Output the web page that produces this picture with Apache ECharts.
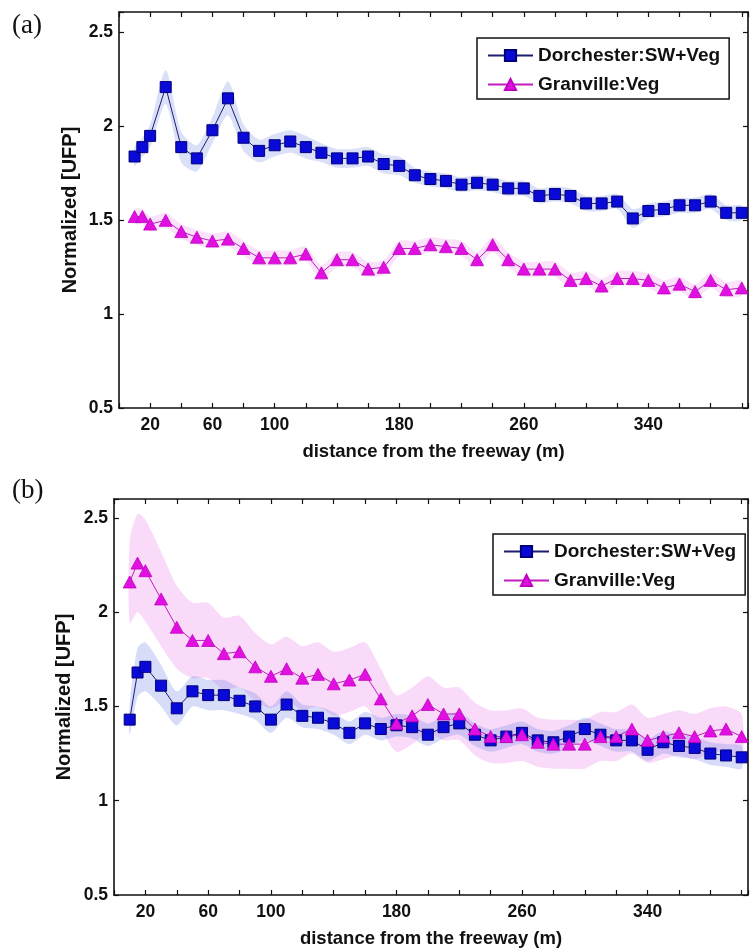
<!DOCTYPE html>
<html>
<head>
<meta charset="utf-8">
<title>Normalized UFP vs distance from the freeway</title>
<script src="https://cdn.jsdelivr.net/npm/echarts@6/dist/echarts.min.js"></script>
<style>
  html, body { margin: 0; padding: 0; background: #fff; }
  #chart { width: 751px; height: 949px; }
</style>
</head>
<body>
<div id="chart"></div>
<script>
// distance from the freeway (m), shared by every series
const distance = [10, 15, 20, 30, 40, 50, 60, 70, 80, 90, 100, 110, 120, 130, 140, 150, 160,
  170, 180, 190, 200, 210, 220, 230, 240, 250, 260, 270, 280, 290, 300, 310, 320, 330, 340,
  350, 360, 370, 380, 390, 400]

// panel (a)
const dorchesterA = [1.84, 1.89, 1.95, 2.21, 1.89, 1.83, 1.98, 2.15, 1.94, 1.87, 1.90, 1.92, 1.89, 1.86, 1.83, 1.83, 1.84,
  1.80, 1.79, 1.74, 1.72, 1.71, 1.69, 1.70, 1.69, 1.67, 1.67, 1.63, 1.64, 1.63, 1.59, 1.59, 1.60, 1.51, 1.55,
  1.56, 1.58, 1.58, 1.60, 1.54, 1.54]
const granvilleA = [1.52, 1.52, 1.48, 1.50, 1.44, 1.41, 1.39, 1.40, 1.35, 1.30, 1.30, 1.30, 1.32, 1.22, 1.29, 1.29, 1.24,
  1.25, 1.35, 1.35, 1.37, 1.36, 1.35, 1.29, 1.37, 1.29, 1.24, 1.24, 1.24, 1.18, 1.19, 1.15, 1.19, 1.19, 1.18,
  1.14, 1.16, 1.12, 1.18, 1.13, 1.14]
// half width of the shaded bands
const dorchesterBandA = [0.05, 0.05, 0.06, 0.09, 0.08, 0.07, 0.07, 0.09, 0.07, 0.06, 0.06, 0.06, 0.06, 0.05, 0.05, 0.05, 0.05,
  0.05, 0.05, 0.04, 0.04, 0.04, 0.04, 0.04, 0.04, 0.04, 0.04, 0.04, 0.04, 0.04, 0.04, 0.04, 0.04, 0.05, 0.04,
  0.04, 0.04, 0.04, 0.04, 0.04, 0.04]
const granvilleBandA = [0.04, 0.04, 0.04, 0.04, 0.04, 0.04, 0.04, 0.04, 0.04, 0.04, 0.04, 0.04, 0.04, 0.04, 0.04, 0.04, 0.04,
  0.04, 0.04, 0.04, 0.04, 0.04, 0.04, 0.04, 0.04, 0.04, 0.04, 0.04, 0.04, 0.04, 0.04, 0.04, 0.04, 0.04, 0.04,
  0.04, 0.04, 0.04, 0.04, 0.04, 0.04]

// panel (b)
const dorchesterB = [1.43, 1.68, 1.71, 1.61, 1.49, 1.58, 1.56, 1.56, 1.53, 1.50, 1.43, 1.51, 1.45, 1.44, 1.41, 1.36, 1.41,
  1.38, 1.40, 1.39, 1.35, 1.39, 1.41, 1.35, 1.32, 1.34, 1.36, 1.32, 1.31, 1.34, 1.38, 1.35, 1.32, 1.32, 1.27,
  1.31, 1.29, 1.28, 1.25, 1.24, 1.23]
const granvilleB = [2.16, 2.26, 2.22, 2.07, 1.92, 1.85, 1.85, 1.78, 1.79, 1.71, 1.66, 1.70, 1.65, 1.67, 1.62, 1.64, 1.67,
  1.54, 1.41, 1.45, 1.51, 1.46, 1.46, 1.38, 1.34, 1.34, 1.35, 1.31, 1.30, 1.30, 1.30, 1.34, 1.34, 1.38, 1.32,
  1.34, 1.36, 1.34, 1.37, 1.38, 1.34]
const dorchesterBandB = [0.08, 0.13, 0.13, 0.11, 0.09, 0.08, 0.08, 0.08, 0.07, 0.07, 0.07, 0.07, 0.06, 0.06, 0.06, 0.06, 0.06,
  0.06, 0.06, 0.06, 0.06, 0.06, 0.06, 0.06, 0.06, 0.06, 0.06, 0.06, 0.06, 0.06, 0.06, 0.06, 0.06, 0.06, 0.06,
  0.06, 0.06, 0.06, 0.06, 0.06, 0.06]
const granvilleBandB = [0.22, 0.26, 0.27, 0.25, 0.22, 0.20, 0.20, 0.19, 0.19, 0.18, 0.17, 0.17, 0.17, 0.17, 0.17, 0.17, 0.17,
  0.16, 0.15, 0.15, 0.15, 0.14, 0.14, 0.14, 0.14, 0.14, 0.14, 0.13, 0.13, 0.13, 0.13, 0.13, 0.13, 0.13, 0.12,
  0.12, 0.12, 0.12, 0.12, 0.12, 0.12]

const xLabels = [20, 60, 100, 180, 260, 340]
const NAME_DOR = "Dorchester:SW+Veg"
const NAME_GRA = "Granville:Veg"

const FONT = '"Liberation Sans", Arial, sans-serif'
const SERIF = '27px "Liberation Serif", "Times New Roman", serif'
const INK = "#111"

const chart = echarts.init(document.getElementById("chart"), null, { renderer: "canvas" })

const pairs = (ys) => distance.map((d, i) => [d, ys[i]])

// shaded band: one polygon through upper edge then lower edge, placed by the axes
function band(ys, half, color, axis) {
  return {
    type: "custom", name: "band", xAxisIndex: axis, yAxisIndex: axis, silent: true, clip: true,
    data: [[distance[0], ys[0]]],
    renderItem: (params, api) => {
      const upper = distance.map((d, i) => api.coord([d, ys[i] + half[i]]))
      const lower = distance.map((d, i) => api.coord([d, ys[i] - half[i]])).reverse()
      return {
        type: "polygon",
        shape: { points: upper.concat(lower), smooth: 0.25 },
        style: { fill: color },
      }
    },
  }
}

function dorSeries(ys, axis) {
  return {
    type: "line", name: NAME_DOR, xAxisIndex: axis, yAxisIndex: axis, data: pairs(ys),
    symbol: "rect", symbolSize: 11,
    lineStyle: { color: "#1d1d70", width: 1 },
    itemStyle: { color: "#0a0ad8", borderColor: "#00007a", borderWidth: 1 },
  }
}

function graSeries(ys, axis) {
  return {
    type: "line", name: NAME_GRA, xAxisIndex: axis, yAxisIndex: axis, data: pairs(ys),
    symbol: "triangle", symbolSize: [13, 12],
    lineStyle: { color: "#c21cc2", width: 1 },
    itemStyle: { color: "#e010e0", borderColor: "#c000c0", borderWidth: 0.8 },
  }
}

function xAxis(grid, position, main) {
  return {
    type: "value", gridIndex: grid, position: position, min: 0, max: 404, interval: 20,
    axisLine: { show: true, onZero: false, lineStyle: { color: INK, width: 1.6 } },
    axisTick: { show: true, inside: true, length: 5, lineStyle: { color: INK, width: 1.2 } },
    splitLine: { show: false },
    axisLabel: {
      show: main, margin: 8, fontSize: 17.5, fontWeight: "bold", fontFamily: FONT, color: INK,
      formatter: (v) => (xLabels.includes(v) ? String(v) : ""),
    },
    name: main ? "distance from the freeway (m)" : "",
    nameLocation: "middle", nameGap: 34,
    nameTextStyle: { fontSize: 18.5, fontWeight: "bold", fontFamily: FONT, color: INK },
  }
}

function yAxis(grid, position, main, max, gap) {
  return {
    type: "value", gridIndex: grid, position: position, min: 0.5, max: max, interval: 0.5,
    axisLine: { show: true, onZero: false, lineStyle: { color: INK, width: 1.6 } },
    axisTick: { show: true, inside: true, length: 5, lineStyle: { color: INK, width: 1.2 } },
    splitLine: { show: false },
    axisLabel: {
      show: main, margin: 6, fontSize: 17.5, fontWeight: "bold", fontFamily: FONT, color: INK,
      formatter: (v) => (Math.abs(v * 2 - Math.round(v * 2)) < 1e-6 ? String(v) : ""),
    },
    name: main ? "Normalized [UFP]" : "",
    nameLocation: "middle", nameGap: gap, nameRotate: 90, nameMoveOverlap: false,
    nameTextStyle: { fontSize: 20, fontWeight: "bold", fontFamily: FONT, color: INK },
  }
}

function legend(left, top) {
  return {
    left: left, top: top, orient: "vertical",
    itemWidth: 45, itemHeight: 14, itemGap: 10,
    padding: [8, 9, 5, 10],
    borderColor: INK, borderWidth: 1.5, backgroundColor: "#fff",
    textStyle: { fontSize: 19, fontWeight: "bold", fontFamily: FONT, color: INK },
    data: [NAME_DOR, NAME_GRA],
  }
}

const option = {
  animation: false,
  backgroundColor: "#fff",
  grid: [
    { left: 119, top: 12, right: 3, bottom: 541 },
    { left: 114, top: 499, right: -11, bottom: 52 },
  ],
  xAxis: [xAxis(0, "bottom", true), xAxis(0, "top", false), xAxis(1, "bottom", true), xAxis(1, "top", false)],
  yAxis: [
    yAxis(0, "left", true, 2.61, 39), yAxis(0, "right", false, 2.61, 0),
    yAxis(1, "left", true, 2.6, 40), yAxis(1, "right", false, 2.6, 0),
  ],
  legend: [legend(477, 38), legend(493, 534)],
  graphic: [
    { type: "text", left: 12, top: 12, style: { text: "(a)", font: SERIF, fill: INK } },
    { type: "text", left: 12, top: 477, style: { text: "(b)", font: SERIF, fill: INK } },
  ],
  series: [
    band(granvilleA, granvilleBandA, "rgba(238,150,238,0.28)", 0),
    band(dorchesterA, dorchesterBandA, "rgba(110,130,230,0.25)", 0),
    dorSeries(dorchesterA, 0),
    graSeries(granvilleA, 0),
    band(granvilleB, granvilleBandB, "rgba(240,160,240,0.38)", 2),
    band(dorchesterB, dorchesterBandB, "rgba(110,130,230,0.28)", 2),
    dorSeries(dorchesterB, 2),
    graSeries(granvilleB, 2),
  ],
}

chart.setOption(option)
window.addEventListener("resize", () => chart.resize())
</script>
</body>
</html>
